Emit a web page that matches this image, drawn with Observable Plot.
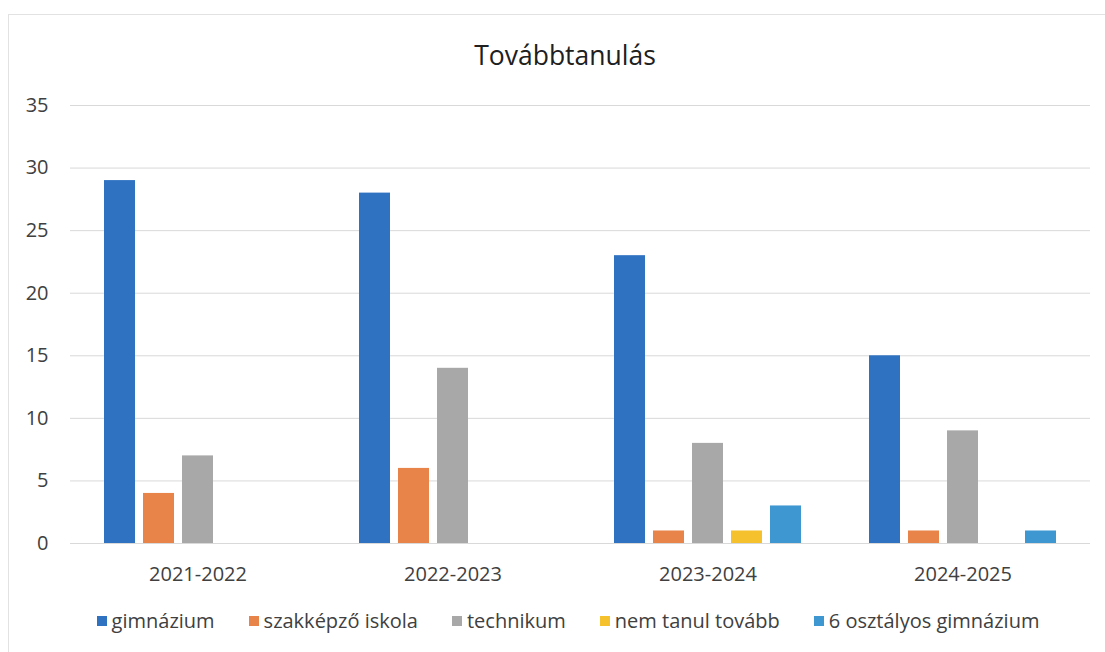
<!DOCTYPE html>
<html><head><meta charset="utf-8">
<script src="https://cdn.jsdelivr.net/npm/d3@7"></script>
<script src="https://cdn.jsdelivr.net/npm/@observablehq/plot@0.6"></script>
<style>
body{margin:0;background:#fff;font-family:"Open Sans",sans-serif;color:#404040;width:1105px;height:652px;overflow:hidden;position:relative;}
#frame{position:absolute;left:8px;top:14px;width:1110px;height:700px;border:1px solid #e2e2e2;box-sizing:border-box;}
#title{position:absolute;left:0;top:37px;width:1130px;text-align:center;font-size:26.5px;line-height:36px;color:#202020;}
#chart{position:absolute;left:0;top:90px;}
#legend{position:absolute;left:0;top:606px;width:1136px;display:flex;justify-content:center;gap:34px;font-size:20px;line-height:30px;}
.item{display:flex;align-items:center;}
.sw{width:10px;height:10px;margin-right:5px;}
</style></head><body>
<div id="frame"></div>
<div id="title">Továbbtanulás</div>
<div id="chart"></div>
<div id="legend"></div>
<script>
const years = ["2021-2022","2022-2023","2023-2024","2024-2025"];
const series = ["gimnázium","szakképző iskola","technikum","nem tanul tovább","6 osztályos gimnázium"];
const gimnazium = [29,28,23,15];
const szakkepzo = [4,6,1,1];
const technikum = [7,14,8,9];
const nemTanul = [0,0,1,0];
const hatOsztalyos = [0,0,3,1];
const colors = ["#2F72C2","#E8844A","#A8A8A8","#F5C22E","#3F97D2"];
const yTicks = [0,5,10,15,20,25,30,35];

const seriesValues = [gimnazium,szakkepzo,technikum,nemTanul,hatOsztalyos];
const data = [];
years.forEach((yr,i)=>series.forEach((s,j)=>data.push({year:yr,series:s,value:seriesValues[j][i]})));

const chart = Plot.plot({
  width:1105, height:500,
  marginLeft:70, marginRight:15, marginTop:15, marginBottom:47,
  style:{color:"#404040",fontSize:"20px",fontFamily:"Open Sans, sans-serif",background:"transparent"},
  fx:{domain:years, padding:0, label:null, axis:"bottom", tickSize:0, tickPadding:23},
  x:{domain:series, paddingInner:0.205, paddingOuter:0.87, axis:null},
  y:{domain:[0,35], ticks:yTicks, label:null, tickSize:0, tickPadding:22},
  color:{domain:series, range:colors},
  marks:[
    Plot.gridY(yTicks,{stroke:"#d9d9d9",strokeOpacity:1}),
    Plot.barY(data.filter(d=>d.value>0),{fx:"year",x:"series",y:"value",fill:"series"})
  ]
});
document.getElementById("chart").appendChild(chart);

const leg = document.getElementById("legend");
series.forEach((s,j)=>{
  const it=document.createElement("div");it.className="item";
  const sw=document.createElement("span");sw.className="sw";sw.style.background=colors[j];
  const t=document.createElement("span");t.textContent=s;
  it.appendChild(sw);it.appendChild(t);leg.appendChild(it);
});
</script>
</body></html>
